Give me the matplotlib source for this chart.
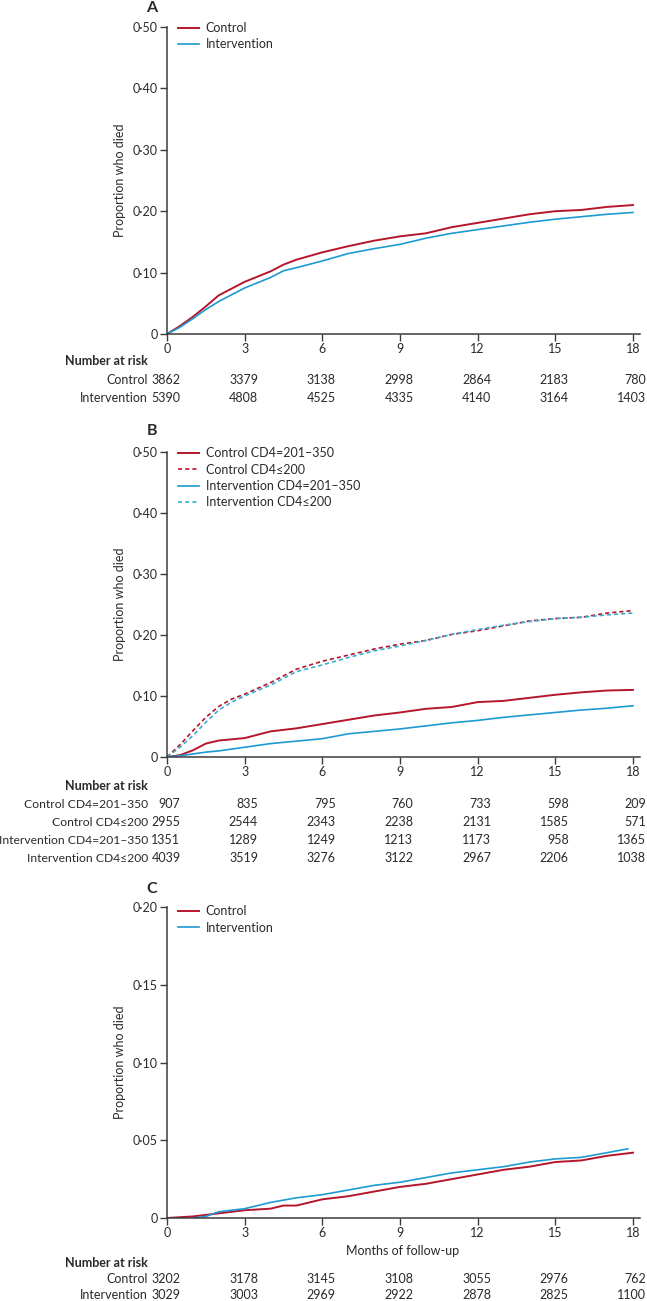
import matplotlib
matplotlib.use('Agg')
import matplotlib.pyplot as plt
from matplotlib.ticker import FixedLocator, FuncFormatter
import matplotlib.transforms as mtransforms

plt.rcParams['font.family'] = ['Lato', 'DejaVu Sans']

# ---------------- data ----------------
x_ticks = [0, 3, 6, 9, 12, 15, 18]

# Panel A
a_time = [0, 0.5, 1, 1.5, 2, 3, 4, 4.5, 5, 6, 7, 8, 9, 10, 11, 12, 13, 14, 15, 16, 17, 18]
a_control = [0, 0.013, 0.028, 0.045, 0.063, 0.085, 0.102, 0.113, 0.121, 0.133, 0.143, 0.152,
             0.159, 0.164, 0.174, 0.181, 0.188, 0.195, 0.200, 0.202, 0.207, 0.210]
a_intervention = [0, 0.011, 0.025, 0.040, 0.053, 0.075, 0.092, 0.103, 0.108, 0.119, 0.131, 0.139,
                  0.146, 0.156, 0.164, 0.170, 0.176, 0.182, 0.187, 0.191, 0.195, 0.198]
a_risk_labels = ["Control", "Intervention"]
a_risk_control = [3862, 3379, 3138, 2998, 2864, 2183, 780]
a_risk_intervention = [5390, 4808, 4525, 4335, 4140, 3164, 1403]

# Panel B
b_time = [0, 0.5, 1, 1.5, 2, 2.5, 3, 4, 5, 6, 7, 8, 9, 10, 11, 12, 13, 14, 15, 16, 17, 18]
b_control_high = [0, 0.003, 0.011, 0.022, 0.027, 0.029, 0.031, 0.042, 0.047, 0.054, 0.061, 0.068,
                  0.073, 0.079, 0.082, 0.090, 0.092, 0.097, 0.102, 0.106, 0.109, 0.110]
b_control_low = [0, 0.020, 0.043, 0.065, 0.083, 0.095, 0.103, 0.122, 0.144, 0.157, 0.167, 0.177,
                 0.185, 0.191, 0.201, 0.207, 0.215, 0.223, 0.227, 0.229, 0.236, 0.240]
b_int_high = [0, 0.002, 0.005, 0.008, 0.010, 0.013, 0.016, 0.022, 0.026, 0.030, 0.038, 0.042,
              0.046, 0.051, 0.056, 0.060, 0.065, 0.069, 0.073, 0.077, 0.080, 0.084]
b_int_low = [0, 0.016, 0.035, 0.057, 0.077, 0.090, 0.100, 0.118, 0.140, 0.151, 0.163, 0.174,
             0.182, 0.191, 0.201, 0.209, 0.216, 0.222, 0.227, 0.229, 0.233, 0.236]
b_labels = ["Control CD4=201\u2013350", "Control CD4\u2264200",
            "Intervention CD4=201\u2013350", "Intervention CD4\u2264200"]
b_risk_control_high = [907, 835, 795, 760, 733, 598, 209]
b_risk_control_low = [2955, 2544, 2343, 2238, 2131, 1585, 571]
b_risk_int_high = [1351, 1289, 1249, 1213, 1173, 958, 1365]
b_risk_int_low = [4039, 3519, 3276, 3122, 2967, 2206, 1038]

# Panel C
c_time_control = [0, 1, 1.5, 2, 3, 4, 4.5, 5, 6, 7, 8, 9, 10, 11, 12, 13, 14, 15, 16, 17, 18]
c_control = [0, 0.001, 0.002, 0.003, 0.005, 0.006, 0.008, 0.008, 0.012, 0.014, 0.017, 0.020,
             0.022, 0.025, 0.028, 0.031, 0.033, 0.036, 0.037, 0.040, 0.042]
c_time_int = [1, 1.5, 2, 3, 4, 5, 6, 7, 8, 9, 10, 11, 12, 13, 14, 15, 16, 17, 17.8]
c_intervention = [0, 0.001, 0.004, 0.006, 0.010, 0.013, 0.015, 0.018, 0.021, 0.023, 0.026,
                  0.029, 0.031, 0.033, 0.036, 0.038, 0.039, 0.042, 0.0445]
c_risk_control = [3202, 3178, 3145, 3108, 3055, 2976, 762]
c_risk_intervention = [3029, 3003, 2969, 2922, 2878, 2825, 1100]

# ---------------- style ----------------
RED = '#b5162c'
BLUE = '#1d9ad2'
BLUE_D = '#3aaed0'
AX = '#3c3c3c'
TXT = '#2a2a2a'
FS = 9

W, H = 647, 1301
fig = plt.figure(figsize=(W / 100, H / 100), dpi=100)

LEFT, RIGHT = 167, 639.5


def add_ax(top, bottom):
    return fig.add_axes([LEFT / W, 1 - bottom / H, (RIGHT - LEFT) / W, (bottom - top) / H])


def fmt(v, pos):
    if abs(v) < 1e-9:
        return "0"
    return ("%.2f" % v).replace('.', '\u00b7')


def style(ax, ymax, ystep):
    ax.set_xlim(0, 18 * (RIGHT - LEFT) / (633 - LEFT))
    ax.set_ylim(0, ymax)
    for s in ['top', 'right']:
        ax.spines[s].set_visible(False)
    for s in ['left', 'bottom']:
        ax.spines[s].set_color(AX)
        ax.spines[s].set_linewidth(1.1)
    ax.xaxis.set_major_locator(FixedLocator(x_ticks))
    yt = [round(i * ystep, 4) for i in range(int(round(ymax / ystep)) + 1)]
    ax.yaxis.set_major_locator(FixedLocator(yt))
    ax.yaxis.set_major_formatter(FuncFormatter(fmt))
    ax.tick_params(axis='both', direction='out', length=5, width=1, color=AX,
                   labelsize=FS, labelcolor=TXT, pad=1.5)
    ax.set_ylabel("Proportion who died", fontsize=FS, color=TXT)
    ax.yaxis.set_label_coords((126 - LEFT) / (RIGHT - LEFT), 0.5)
    ax.patch.set_alpha(0)


def ypx(y):
    return 1 - y / H


def risk_table(ax, top, labels, rows, spacing, label_fs=FS):
    tr = mtransforms.blended_transform_factory(ax.transData, fig.transFigure)
    fig.text(148 / W, ypx(top), "Number at risk", ha='right', va='center',
             fontsize=FS, fontweight='bold', color=TXT)
    for i, (lab, vals) in enumerate(zip(labels, rows)):
        y = ypx(top + spacing * (i + 1))
        fig.text(148 / W, y, lab, ha='right', va='center', fontsize=label_fs, color=TXT)
        for xt, v in zip(x_ticks, vals):
            ax.text(xt + 0.52, y, str(v), transform=tr, ha='right', va='center',
                    fontsize=FS, color=TXT)


def panel_letter(letter, y):
    fig.text(152 / W, ypx(y), letter, ha='center', va='center', fontsize=11.5,
             fontweight='bold', color=TXT)


def legend(ax, top):
    ax.legend(loc='upper left', bbox_to_anchor=(178 / W, ypx(top)), bbox_transform=fig.transFigure,
              frameon=False, fontsize=FS, handlelength=1.7, handletextpad=0.5,
              labelspacing=0.36, borderpad=0, borderaxespad=0, labelcolor=TXT)


# ---------------- Panel A ----------------
axA = add_ax(27, 334)
style(axA, 0.5, 0.1)
axA.plot(a_time, a_control, color=RED, lw=1.4, label="Control")
axA.plot(a_time, a_intervention, color=BLUE, lw=1.2, label="Intervention")
legend(axA, 22)
panel_letter("A", 8)
risk_table(axA, 361, a_risk_labels, [a_risk_control, a_risk_intervention], 18.5)

# ---------------- Panel B ----------------
axB = add_ax(452, 757)
style(axB, 0.5, 0.1)
axB.plot(b_time, b_control_high, color=RED, lw=1.4, label=b_labels[0])
axB.plot(b_time, b_control_low, color=RED, lw=1.2, ls=(0, (2.5, 1.8)), label=b_labels[1])
axB.plot(b_time, b_int_high, color=BLUE, lw=1.2, label=b_labels[2])
axB.plot(b_time, b_int_low, color=BLUE_D, lw=1.2, ls=(0, (2.5, 1.8)), label=b_labels[3])
legend(axB, 447)
panel_letter("B", 431)
risk_table(axB, 786, b_labels,
           [b_risk_control_high, b_risk_control_low, b_risk_int_high, b_risk_int_low], 18,
           label_fs=8.7)

# ---------------- Panel C ----------------
axC = add_ax(907, 1218)
style(axC, 0.20, 0.05)
axC.plot(c_time_control, c_control, color=RED, lw=1.4, label="Control")
axC.plot(c_time_int, c_intervention, color=BLUE, lw=1.2, label="Intervention")
legend(axC, 905)
panel_letter("C", 889)
fig.text(403 / W, ypx(1251), "Months of follow-up", ha='center', va='center',
         fontsize=FS, color=TXT)
risk_table(axC, 1263, a_risk_labels, [c_risk_control, c_risk_intervention], 16)

fig.savefig("out.png", dpi=100)
